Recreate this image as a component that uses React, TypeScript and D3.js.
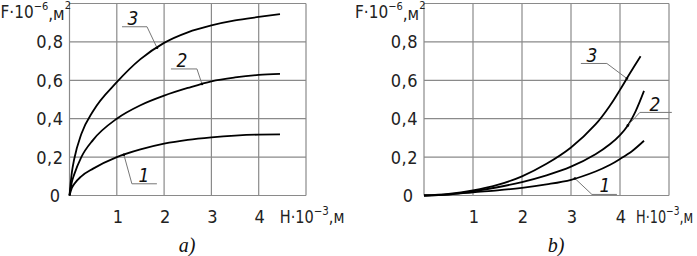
import React from "react";
import * as d3 from "d3";

// ---- data (panel a) ----
const hA = [0, 0.05, 0.1, 0.25, 0.5, 1, 1.5, 2, 2.5, 3, 3.5, 4, 4.45];
const a1 = [0, 0.04, 0.06, 0.1, 0.14, 0.2, 0.24, 0.27, 0.29, 0.303, 0.312, 0.317, 0.318];
const a2 = [0, 0.07, 0.11, 0.2, 0.29, 0.4, 0.47, 0.52, 0.56, 0.595, 0.615, 0.628, 0.633];
const a3 = [0, 0.12, 0.19, 0.32, 0.44, 0.59, 0.71, 0.795, 0.85, 0.886, 0.912, 0.93, 0.945];

// ---- data (panel b) ----
const hB3 = [0, 0.5, 1, 1.5, 2, 2.5, 3, 3.5, 3.8, 4, 4.2, 4.42];
const b3 = [0, 0.008, 0.026, 0.055, 0.1, 0.165, 0.25, 0.37, 0.47, 0.55, 0.635, 0.725];
const hB2 = [0, 0.5, 1, 1.5, 2, 2.5, 3, 3.5, 3.8, 4, 4.16, 4.32, 4.49];
const b2 = [0, 0.006, 0.022, 0.043, 0.07, 0.105, 0.15, 0.215, 0.268, 0.315, 0.365, 0.44, 0.545];
const hB1 = [0, 0.5, 1, 1.5, 2, 2.5, 3, 3.5, 3.8, 4, 4.25, 4.49];
const b1 = [0, 0.005, 0.017, 0.027, 0.04, 0.058, 0.082, 0.125, 0.16, 0.19, 0.232, 0.285];

const xTicks = [1, 2, 3, 4];
const yTicks = [0.2, 0.4, 0.6, 0.8];
const yTickLabels = ["0,2", "0,4", "0,6", "0,8"];

const FONT = "'Liberation Sans Narrow', 'DejaVu Sans Condensed', 'Open Sans', sans-serif";
const GRID = "#8a8a8a";

function interp(hs: number[], vs: number[], h: number) {
  return d3.scaleLinear().domain(hs).range(vs)(h);
}

function Panel({ left, right, series, anns, caption, captionX, zeroX, titleDx, titleScale, curve }: any) {
  const x = d3.scaleLinear().domain([0, 5]).range([left, right]);
  const y = d3.scaleLinear().domain([0, 1]).range([195.5, 3.5]);
  const line = d3
    .line<[number, number]>()
    .x((d) => x(d[0]))
    .y((d) => y(d[1]))
    .curve(curve);
  const labelRight = left - 6;
  return (
    <g>
      {[0, ...xTicks, 5].map((t) => (
        <line key={"gx" + t} x1={x(t)} x2={x(t)} y1={y(0)} y2={y(1)} stroke={GRID} strokeWidth={1.2} />
      ))}
      {[0, ...yTicks, 1].map((t) => (
        <line key={"gy" + t} x1={x(0)} x2={x(5)} y1={y(t)} y2={y(t)} stroke={GRID} strokeWidth={1.2} />
      ))}
      {series.map((s: any, i: number) => (
        <path
          key={i}
          d={line(s.h.map((h: number, j: number) => [h, s.v[j]]))!}
          fill="none"
          stroke="#000"
          strokeWidth={1.8}
        />
      ))}
      {anns.map((a: any, i: number) => {
        const s = series[a.series];
        const px = x(a.hx);
        const py = y(interp(s.h, s.v, a.hx));
        const pts = a.path.map((p: number[]) => [px + p[0], py + p[1]]);
        return (
          <g key={"a" + i}>
            <polyline points={pts.map((p: number[]) => p.join(",")).join(" ")} fill="none" stroke="#777" strokeWidth={1} />
            <circle cx={px} cy={py} r={1.3} fill="#000" />
            <text
              x={px + a.tx}
              y={py + a.ty}
              fontFamily={FONT}
              fontStyle="italic"
              fontSize={19}
              textAnchor="middle"
              fill="#111"
            >
              {a.label}
            </text>
          </g>
        );
      })}
      {yTicks.map((t, i) => (
        <text key={"yl" + t} x={labelRight} y={y(t) + 6.5} textAnchor="end" fontFamily={FONT} fontSize={18} fill="#222" letterSpacing={0.5}>
          {yTickLabels[i]}
        </text>
      ))}
      <text x={zeroX} y={y(0) + 6.5} textAnchor="end" fontFamily={FONT} fontSize={18} fill="#222">
        0
      </text>
      {xTicks.map((t) => (
        <text key={"xl" + t} x={x(t) + 1} y={223} textAnchor="middle" fontFamily={FONT} fontSize={18} fill="#222">
          {t}
        </text>
      ))}
      <text
        transform={`translate(${x(4) + titleDx},223) scale(${titleScale},1)`}
        fontFamily={FONT}
        fontSize={17}
        fill="#222"
      >
        H·10
        <tspan dy={-8} fontSize={12}>
          −3
        </tspan>
        <tspan dy={8}>,м</tspan>
      </text>
      <text x={left - 69} y={18} fontFamily={FONT} fontSize={17} fill="#222">
        F·10
        <tspan dy={-8} fontSize={11}>
          −6
        </tspan>
        <tspan dy={10}>,м</tspan>
        <tspan dy={-11} fontSize={11}>
          2
        </tspan>
      </text>
      <text x={captionX} y={252} textAnchor="middle" fontFamily="'Liberation Serif', 'DejaVu Serif', serif" fontStyle="italic" fontSize={20} fill="#111">
        {caption}
      </text>
    </g>
  );
}

export default function App() {
  const seriesA = [
    { h: hA, v: a1 },
    { h: hA, v: a2 },
    { h: hA, v: a3 },
  ];
  const seriesB = [
    { h: hB1, v: b1 },
    { h: hB2, v: b2 },
    { h: hB3, v: b3 },
  ];
  const annsA = [
    { label: "3", series: 2, hx: 1.85, path: [[0, 0], [-10, -21], [-35, -21]], tx: -24, ty: -23 },
    { label: "2", series: 1, hx: 2.8, path: [[0, 0], [-5, -15], [-31, -15]], tx: -20, ty: -17 },
    { label: "1", series: 0, hx: 1.15, path: [[0, 0], [8, 29], [33, 29]], tx: 20, ty: 27 },
  ];
  const annsB = [
    { label: "3", series: 2, hx: 4.14, path: [[0, 0], [-20, -15], [-46, -15]], tx: -35, ty: -16 },
    { label: "2", series: 1, hx: 4.16, path: [[0, 0], [12, -13], [44, -13]], tx: 27, ty: -14 },
    { label: "1", series: 0, hx: 3.08, path: [[0, 0], [17, 16], [42, 16]], tx: 30, ty: 14 },
  ];
  return (
    <svg width={697} height={256} style={{ position: "absolute", left: 0, top: 0, background: "#fff" }}>
      <rect width={697} height={256} fill="#fff" />
      <Panel left={69.5} right={306} series={seriesA} anns={annsA} caption="a)" captionX={187} zeroX={60} titleDx={21} titleScale={0.95} curve={d3.curveMonotoneX} />
      <Panel left={424} right={669} series={seriesB} anns={annsB} caption="b)" captionX={556} zeroX={413} titleDx={16} titleScale={0.84} curve={d3.curveCatmullRom.alpha(0.5)} />
    </svg>
  );
}
